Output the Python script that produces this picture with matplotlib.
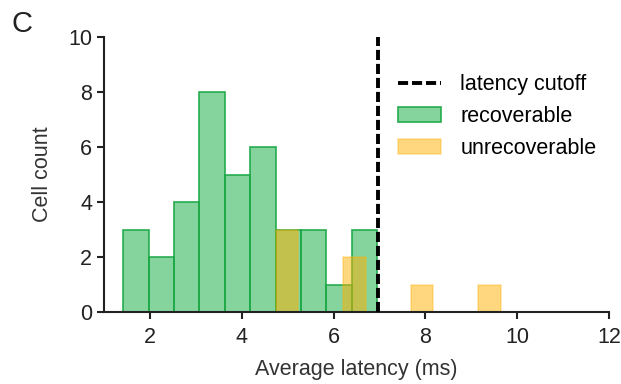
import numpy as np
import matplotlib.pyplot as plt

plt.rcParams['font.family'] = ['Liberation Sans', 'DejaVu Sans']

# recoverable cells: histogram counts, bins of equal width
rec_start = 1.42
rec_width = 0.553
rec_counts = [3, 2, 4, 8, 5, 6, 3, 3, 1, 3]

# unrecoverable cells
unrec_start = 4.74
unrec_width = 0.49
unrec_counts = [3, 0, 0, 2, 0, 0, 1, 0, 0, 1]

cutoff = 6.97

fig = plt.figure(figsize=(6.21, 3.84), dpi=100)
ax = fig.add_axes([0.1675, 0.1875, 0.8135, 0.716])

rec_left = rec_start + rec_width * np.arange(len(rec_counts))
unrec_left = unrec_start + unrec_width * np.arange(len(unrec_counts))

ax.axvline(cutoff, color='black', ls=(0, (2.6, 1.0)), lw=2.8, label='latency cutoff', zorder=3)
ax.bar(rec_left, rec_counts, width=rec_width, align='edge',
       facecolor=(0.13, 0.69, 0.30, 0.55), edgecolor=(0.10, 0.66, 0.27, 0.85),
       lw=1.3, label='recoverable')
ax.bar(unrec_left, unrec_counts, width=unrec_width, align='edge',
       facecolor=(1.0, 0.69, 0.0, 0.5), edgecolor=(1.0, 0.69, 0.0, 0.3),
       lw=1.3, label='unrecoverable')

ax.set_xlim(1, 12)
ax.set_ylim(0, 10)
ax.set_xticks([2, 4, 6, 8, 10, 12])
ax.set_yticks([0, 2, 4, 6, 8, 10])
for s in ['top', 'right']:
    ax.spines[s].set_visible(False)
for s in ['left', 'bottom']:
    ax.spines[s].set_linewidth(1.5)
    ax.spines[s].set_color('#222222')
ax.tick_params(length=5, width=1.5, labelsize=15.5, colors='#222222')
ax.tick_params(axis='x', pad=6)
ax.set_xlabel('Average latency (ms)', fontsize=15.5, color='#333333', labelpad=8)
ax.set_ylabel('Cell count', fontsize=15.5, color='#333333', labelpad=11)

ax.legend(loc='upper left', bbox_to_anchor=(0.543, 0.935), frameon=False,
          fontsize=15.5, handlelength=2.0, handletextpad=0.9, labelspacing=0.5)

fig.text(0.018, 0.975, 'C', fontsize=21, va='top', color='#222222')

fig.savefig('out.png', dpi=100)
